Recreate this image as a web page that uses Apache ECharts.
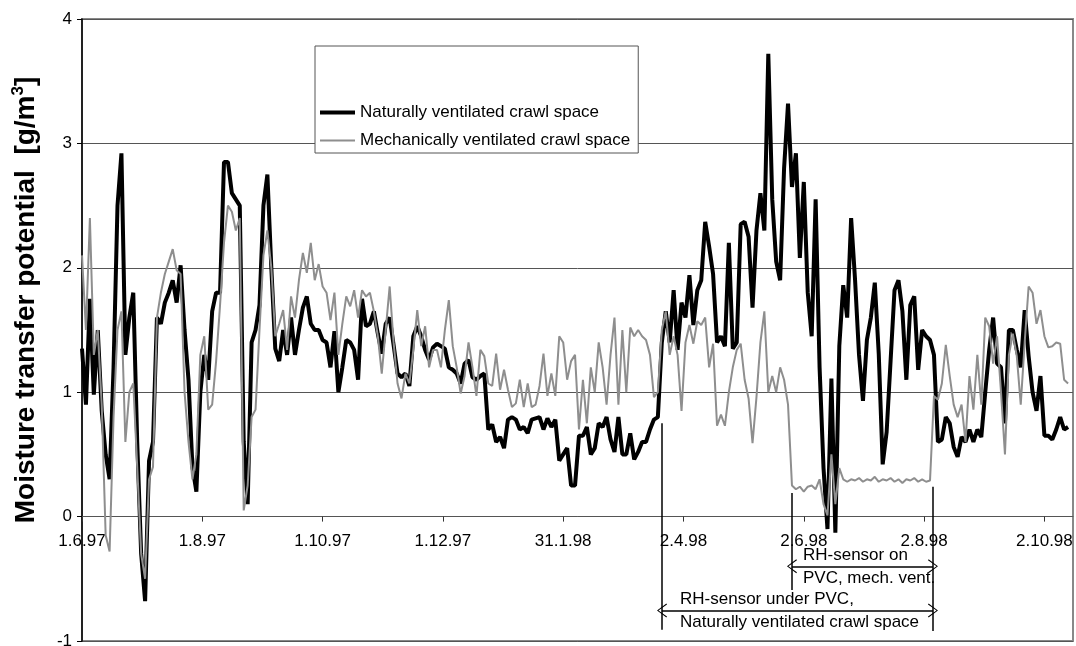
<!DOCTYPE html>
<html>
<head>
<meta charset="UTF-8">
<title>Moisture transfer potential</title>
<script src="https://cdn.jsdelivr.net/npm/echarts@6/dist/echarts.min.js"></script>
<style>
  body { margin: 0; background: #fff; }
  #chart { width: 1076px; height: 646px; }
</style>
</head>
<body>
<div id="chart"></div>
<script>
// x axis: days since 1.6.97, one value every 2 days
const dayStep = 2;
const tickStep = 61;
const tickLabels = ['1.6.97', '1.8.97', '1.10.97', '1.12.97', '31.1.98', '2.4.98', '2.6.98', '2.8.98', '2.10.98'];

const naturalVent = [
  1.35, 0.9, 1.75, 0.98, 1.5, 0.85, 0.5, 0.3, 1.2, 2.5,
  2.92, 1.3, 1.6, 1.8, 0.6, -0.3, -0.68, 0.45, 0.6, 1.6,
  1.55, 1.72, 1.8, 1.9, 1.72, 2.02, 1.5, 1.1, 0.4, 0.2,
  1.0, 1.3, 1.1, 1.65, 1.8, 1.8, 2.85, 2.85, 2.6, 2.55,
  2.5, 0.6, 0.1, 1.4, 1.5, 1.7, 2.5, 2.75, 2.0, 1.35,
  1.25, 1.5, 1.3, 1.6, 1.3, 1.5, 1.68, 1.77, 1.55, 1.5,
  1.5, 1.42, 1.4, 1.2, 1.49, 1.0, 1.2, 1.42, 1.4, 1.34,
  1.1, 1.75, 1.53, 1.55, 1.65, 1.47, 1.31, 1.55, 1.6, 1.38,
  1.15, 1.12, 1.15, 1.05, 1.45, 1.53, 1.45, 1.34, 1.26, 1.36,
  1.39, 1.37, 1.35, 1.2, 1.18, 1.15, 1.07, 1.23, 1.26, 1.12,
  1.1, 1.13, 1.15, 0.7, 0.74, 0.6, 0.64, 0.55, 0.78, 0.8,
  0.78, 0.7, 0.72, 0.67, 0.78, 0.79, 0.8, 0.7, 0.79, 0.72,
  0.78, 0.45, 0.5, 0.55, 0.25, 0.25, 0.65, 0.65, 0.72, 0.5,
  0.55, 0.75, 0.72, 0.8, 0.62, 0.52, 0.8, 0.5, 0.5, 0.67,
  0.46, 0.52, 0.6, 0.6, 0.7, 0.78, 0.8, 1.4, 1.65, 1.4,
  1.82, 1.34, 1.72, 1.6, 1.94, 1.54, 1.82, 1.9, 2.37, 2.17,
  1.95, 1.4, 1.45, 1.37, 2.2, 1.35, 1.4, 2.35, 2.37, 2.25,
  1.68, 2.3, 2.6, 2.3, 3.72, 2.55, 2.05, 1.9, 2.8, 3.32,
  2.65, 2.92, 2.08, 2.69, 1.8, 1.45, 2.55, 1.2, 0.39, -0.1,
  1.11, -0.13, 1.37, 1.86, 1.6, 2.4, 1.9, 1.3, 0.93, 1.42,
  1.6, 1.88, 1.31, 0.42, 0.68, 1.25, 1.82, 1.9, 1.65, 1.1,
  1.7, 1.77, 1.18, 1.5, 1.45, 1.42, 1.3, 0.6, 0.62, 0.8,
  0.75, 0.56, 0.48, 0.64, 0.6, 0.7, 0.6, 0.7, 0.64, 1.0,
  1.34, 1.6, 1.23, 1.2, 0.75, 1.5, 1.5, 1.34, 1.2, 1.66,
  1.29, 1.0, 0.85, 1.13, 0.65, 0.65, 0.62, 0.7, 0.8, 0.7,
  0.72
];

const mechVent = [
  2.1, 1.5, 2.4, 1.3, 1.5, 0.9, -0.15, -0.28, 0.8, 1.5,
  1.65, 0.6, 1.0, 1.07, 0.4, -0.3, -0.5, 0.3, 0.4, 1.6,
  1.8, 1.95, 2.05, 2.15, 1.98, 1.95, 1.0, 0.6, 0.3, 0.5,
  1.3, 1.45, 0.86, 0.9, 1.25, 1.7, 2.2, 2.5, 2.45, 2.3,
  2.4, 0.05, 0.25, 0.8, 0.86, 1.5, 2.1, 2.3, 2.0, 1.45,
  1.55, 1.66, 1.34, 1.77, 1.6, 1.9, 2.12, 1.96, 2.2, 1.9,
  2.03, 1.85, 1.8, 1.58, 1.8, 1.3, 1.55, 1.77, 1.69, 1.82,
  1.6, 1.82, 1.77, 1.8, 1.65, 1.45, 1.15, 1.5, 1.85, 1.4,
  1.07, 0.95, 1.15, 1.07, 1.34, 1.66, 1.37, 1.53, 1.2, 1.34,
  1.34, 1.2, 1.5, 1.74, 1.37, 1.2, 0.99, 1.13, 1.4, 1.2,
  0.97, 1.34, 1.29, 1.07, 1.05, 1.31, 1.02, 1.18, 1.02, 0.88,
  0.91, 1.1, 0.88, 1.07, 0.88, 0.9, 1.05, 1.31, 0.97, 1.15,
  0.97, 1.45, 1.4, 1.1, 1.25, 1.3, 0.7, 1.1, 0.75, 1.2,
  1.0, 1.4, 1.2, 0.9, 1.3, 1.6, 0.9, 1.5, 1.0, 1.52,
  1.45, 1.5, 1.45, 1.42, 1.3, 0.96, 1.0, 1.5, 1.65, 1.3,
  1.45, 1.3, 0.85, 1.4, 1.54, 1.39, 1.57, 1.54, 1.6, 1.2,
  1.39, 0.73, 0.82, 0.73, 1.0, 1.2, 1.34, 1.39, 1.1, 0.95,
  0.59, 0.96, 1.4, 1.65, 1.0, 1.13, 1.0, 1.2, 1.1, 0.9,
  0.25, 0.22, 0.24, 0.2, 0.24, 0.25, 0.22, 0.3, 0.1, 0.01,
  0.5, 0.1, 0.39, 0.3, 0.28, 0.3, 0.29, 0.31, 0.28, 0.3,
  0.29, 0.32, 0.28, 0.3, 0.29, 0.31, 0.28, 0.3, 0.27, 0.3,
  0.29, 0.31, 0.28, 0.3, 0.28, 0.29, 0.97, 0.94, 1.07, 1.38,
  1.13, 0.9, 0.8, 0.9, 0.6, 1.13, 0.86, 1.3, 0.9, 1.6,
  1.53, 1.23, 1.45, 1.0, 0.5, 1.3, 1.47, 1.29, 0.9, 1.4,
  1.85, 1.8, 1.55, 1.66, 1.45, 1.36, 1.37, 1.4, 1.39, 1.1,
  1.07
];

// sensor periods: [day, top, bottom] vertical markers and [from, to, level] arrows
const markers = [[294.1, 0.75, -0.91], [360, 0.19, -0.59], [431.5, 0.24, -0.92]];
const periods = [
  { from: 360, to: 431.5, level: -0.40, text: 'RH-sensor on\nPVC, mech. vent.', gap: 11 },
  { from: 294.1, to: 431.5, level: -0.755, text: 'RH-sensor under PVC,\nNaturally ventilated crawl space', gap: 18 }
];

const font = 'Liberation Sans, Arial, sans-serif';
const openArrow = 'path://M7,0 L14,10 L13,10.7 L7,1.6 L1,10.7 L0,10 Z';

const toPairs = arr => arr.map((v, i) => [i * dayStep, v]);

const markLineData = [];
markers.forEach(m => {
  markLineData.push([{ coord: [m[0], m[1]] }, { coord: [m[0], m[2]] }]);
});
periods.forEach(p => {
  markLineData.push([
    {
      coord: [p.from, p.level], symbol: openArrow, symbolSize: [14, 10],
      label: { show: true, position: 'insideStart', formatter: p.text, distance: p.gap,
               fontFamily: font, fontSize: 17, color: '#000', lineHeight: 23 }
    },
    { coord: [p.to, p.level], symbol: openArrow, symbolSize: [14, 10] }
  ]);
});

const chart = echarts.init(document.getElementById('chart'));

chart.setOption({
  animation: false,
  grid: {
    left: 82, right: 3, top: 19, bottom: 5,
    outerBoundsMode: 'none',
    show: true, borderColor: '#888', borderWidth: 2, backgroundColor: '#fff'
  },
  legend: {
    data: [
      { name: 'Naturally ventilated crawl space', icon: 'path://M0,0h35v4h-35z' },
      { name: 'Mechanically ventilated crawl space', icon: 'path://M0,0h35v2h-35z' }
    ],
    orient: 'vertical',
    left: 315, top: 46,
    padding: [58, 8, 4, 5],
    itemGap: 11, itemWidth: 35, itemHeight: 14,
    backgroundColor: '#fff', borderColor: '#555', borderWidth: 1,
    textStyle: { fontFamily: font, fontSize: 17, color: '#000' }
  },
  xAxis: {
    type: 'value', min: 0, max: 502.5, interval: tickStep,
    position: 'bottom',
    offset: -124.4,
    axisLine: { onZero: false, lineStyle: { color: '#555', width: 1 } },
    axisTick: { show: true, length: 5, lineStyle: { color: '#333' } },
    axisLabel: {
      margin: 16, fontFamily: font, fontSize: 17, color: '#000', showMaxLabel: false,
      formatter: v => (v % tickStep === 0 ? tickLabels[v / tickStep] : '')
    },
    splitLine: { show: false }
  },
  yAxis: {
    type: 'value', min: -1, max: 4, interval: 1,
    name: '{a|Moisture transfer potential  [g/m}{s|3}{a|]}',
    nameLocation: 'middle', nameRotate: 90, nameGap: 40,
    nameTextStyle: {
      padding: [0, 0, 0, 60],
      rich: {
        a: { fontFamily: font, fontSize: 28, fontWeight: 'bold', color: '#000', lineHeight: 32 },
        s: { fontFamily: font, fontSize: 17, fontWeight: 'bold', color: '#000', verticalAlign: 'top', lineHeight: 32 }
      }
    },
    axisLine: { show: true, lineStyle: { color: '#000', width: 1.5 } },
    axisTick: { show: true, length: 5, lineStyle: { color: '#000' } },
    axisLabel: { margin: 10, fontFamily: font, fontSize: 17, color: '#000' },
    splitLine: { show: true, lineStyle: { color: '#555', width: 1 } }
  },
  series: [
    {
      name: 'Naturally ventilated crawl space',
      type: 'line', data: toPairs(naturalVent),
      symbol: 'none', smooth: false,
      lineStyle: { color: '#000', width: 4 },
      itemStyle: { color: '#000' }
    },
    {
      name: 'Mechanically ventilated crawl space',
      type: 'line', data: toPairs(mechVent),
      symbol: 'none', smooth: false,
      lineStyle: { color: '#8e8e8e', width: 2 },
      itemStyle: { color: '#8e8e8e' },
      markLine: {
        silent: true, animation: false,
        symbol: 'none',
        label: { show: false },
        lineStyle: { type: 'solid', color: '#000', width: 1.5 },
        emphasis: { disabled: true },
        data: markLineData
      }
    }
  ]
});
</script>
</body>
</html>
